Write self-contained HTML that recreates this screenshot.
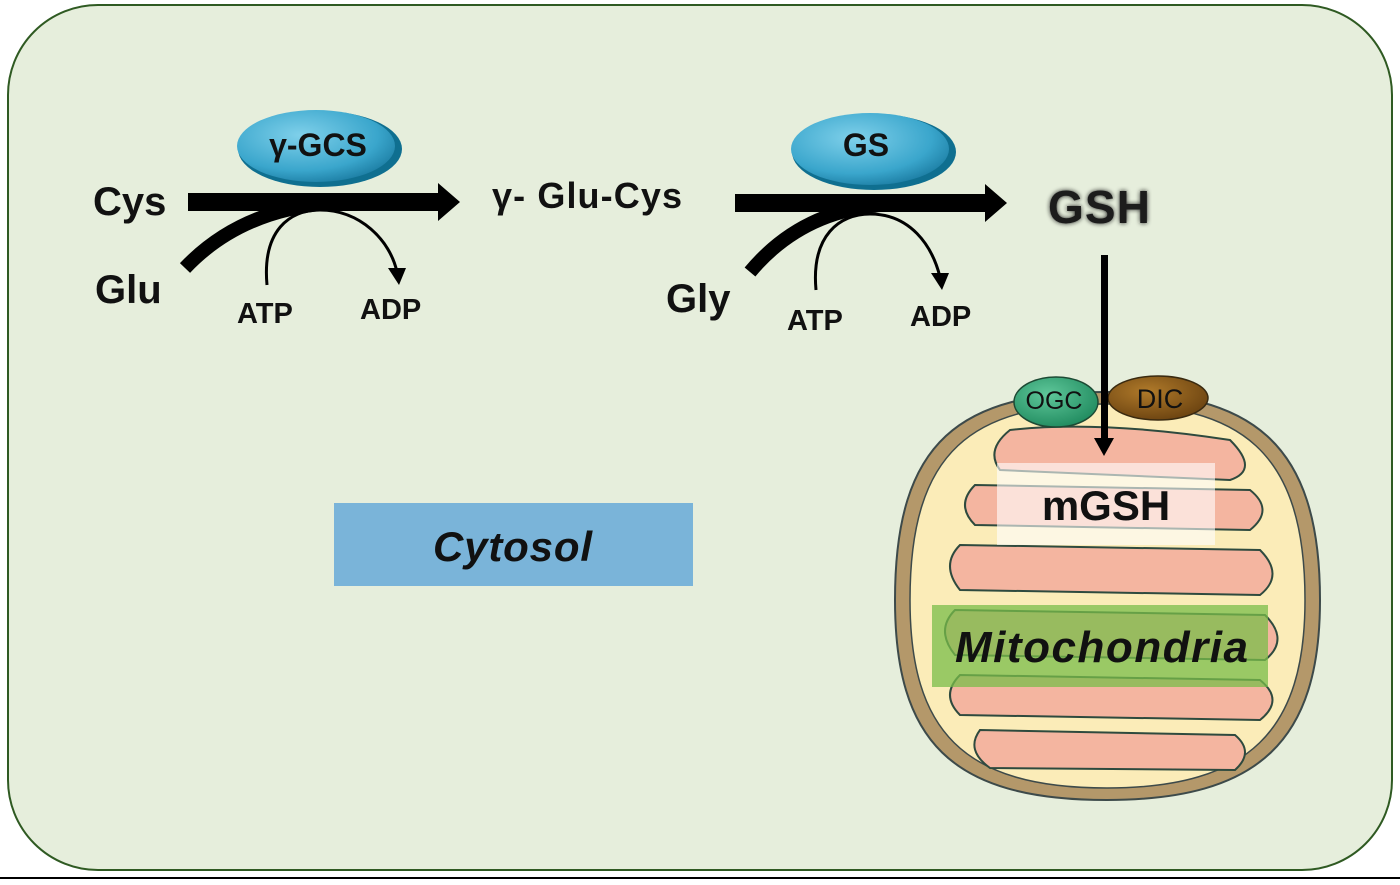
<!DOCTYPE html>
<html><head><style>body{margin:0;background:#fff}svg{display:block}text{font-family:"Liberation Sans",sans-serif;font-weight:bold}</style></head><body>
<svg width="1400" height="885" viewBox="0 0 1400 885" xmlns="http://www.w3.org/2000/svg">
<defs>
<radialGradient id="bl" cx="0.4" cy="0.35" r="0.7"><stop offset="0" stop-color="#7fd0ea"/><stop offset="0.7" stop-color="#3aa6cc"/><stop offset="1" stop-color="#1c7da3"/></radialGradient>
<radialGradient id="gr" cx="0.4" cy="0.35" r="0.7"><stop offset="0" stop-color="#5fc79a"/><stop offset="1" stop-color="#1f8a5e"/></radialGradient>
<radialGradient id="br" cx="0.4" cy="0.35" r="0.7"><stop offset="0" stop-color="#b07a2a"/><stop offset="1" stop-color="#6a4210"/></radialGradient>
<filter id="glow"><feGaussianBlur stdDeviation="2.5" result="b"/><feMerge><feMergeNode in="b"/><feMergeNode in="SourceGraphic"/></feMerge></filter>
</defs>
<rect x="0" y="0" width="1400" height="885" fill="#fff"/>
<rect x="8" y="5" width="1384" height="865" rx="90" fill="#e6eedc" stroke="#2f5a22" stroke-width="2"/>
<line x1="0" y1="878" x2="1400" y2="878" stroke="#000" stroke-width="2"/>

<ellipse cx="320" cy="149" rx="82" ry="38" fill="#0f6f90"/>
<ellipse cx="316" cy="146" rx="79" ry="36" fill="url(#bl)"/>
<text x="318" y="156" font-size="32" text-anchor="middle" fill="#111">γ-GCS</text>
<rect x="188" y="193" width="252" height="18" fill="#000"/>
<polygon points="438,183 460,202 438,221" fill="#000"/>
<path d="M185,268 Q240,210 330,203" stroke="#000" stroke-width="14" fill="none"/>
<path d="M267,285 C262,230 290,210 320,210 C360,210 390,240 397,272" stroke="#000" stroke-width="3" fill="none"/>
<polygon points="388,268 406,268 399,285" fill="#000"/>
<text x="93" y="215" font-size="40" fill="#111">Cys</text>
<text x="95" y="303" font-size="40" fill="#111">Glu</text>
<text x="237" y="323" font-size="29" fill="#111">ATP</text>
<text x="360" y="319" font-size="29" fill="#111">ADP</text>
<text x="492" y="208" font-size="36" fill="#111" textLength="190">γ- Glu-Cys</text>

<ellipse cx="874" cy="152" rx="82" ry="38" fill="#0f6f90"/>
<ellipse cx="870" cy="149" rx="79" ry="36" fill="url(#bl)"/>
<text x="866" y="156" font-size="32" text-anchor="middle" fill="#111">GS</text>
<rect x="735" y="194" width="252" height="18" fill="#000"/>
<polygon points="985,184 1007,203 985,222" fill="#000"/>
<path d="M750,272 Q800,212 880,205" stroke="#000" stroke-width="14" fill="none"/>
<path d="M816,290 C811,235 840,214 870,214 C910,214 932,245 940,277" stroke="#000" stroke-width="3" fill="none"/>
<polygon points="931,273 949,273 942,290" fill="#000"/>
<text x="666" y="312" font-size="40" fill="#111">Gly</text>
<text x="787" y="330" font-size="29" fill="#111">ATP</text>
<text x="910" y="326" font-size="29" fill="#111">ADP</text>
<text x="1048" y="223" font-size="46" fill="#1a1a1a" filter="url(#glow)" textLength="102">GSH</text>

<path d="M1107,392 C1250,392 1320,440 1320,600 C1320,740 1260,800 1107,800 C950,800 895,740 895,600 C895,440 960,392 1107,392 Z" fill="#b4986a" stroke="#3d4a4a" stroke-width="2"/>
<path d="M1107,404 C1240,404 1305,450 1305,600 C1305,730 1250,788 1107,788 C962,788 910,730 910,600 C910,450 972,404 1107,404 Z" fill="#fbecb8" stroke="#3d4a4a" stroke-width="1.5"/>
<g fill="#f4b5a0" stroke="#2e4a3e" stroke-width="2">
<path d="M1010,430 Q1100,420 1230,440 Q1260,470 1230,480 L1000,470 Q985,450 1010,430Z"/>
<path d="M975,485 L1250,490 Q1275,510 1250,530 L975,525 Q955,505 975,485Z"/>
<path d="M960,545 L1260,550 Q1285,575 1260,595 L960,590 Q940,565 960,545Z"/>
<path d="M955,610 L1265,615 Q1290,640 1265,660 L955,655 Q935,630 955,610Z"/>
<path d="M960,675 L1260,680 Q1285,700 1260,720 L960,715 Q940,695 960,675Z"/>
<path d="M980,730 L1235,735 Q1255,752 1235,770 L990,768 Q965,750 980,730Z"/>
</g>
<rect x="997" y="463" width="218" height="82" fill="#fff" fill-opacity="0.6"/>
<text x="1106" y="520" font-size="42" text-anchor="middle" fill="#111">mGSH</text>
<rect x="932" y="605" width="336" height="82" fill="#79bd4a" fill-opacity="0.75"/>
<text x="955" y="662" font-size="44" font-style="italic" fill="#111" textLength="293">Mitochondria</text>
<ellipse cx="1158" cy="398" rx="50" ry="22" fill="url(#br)" stroke="#3a2a10" stroke-width="1.5"/>
<text x="1160" y="408" font-size="27" text-anchor="middle" fill="#111" style="font-weight:normal">DIC</text>
<ellipse cx="1056" cy="402" rx="42" ry="25" fill="url(#gr)" stroke="#1d4a34" stroke-width="1.5"/>
<text x="1054" y="409" font-size="25" text-anchor="middle" fill="#111" style="font-weight:normal">OGC</text>
<rect x="1101" y="255" width="7" height="185" fill="#000"/>
<polygon points="1094,438 1114,438 1104,456" fill="#000"/>

<rect x="334" y="503" width="359" height="83" fill="#7ab4d9"/>
<text x="433" y="561" font-size="42" font-style="italic" fill="#111" textLength="159">Cytosol</text>
</svg>
</body></html>
